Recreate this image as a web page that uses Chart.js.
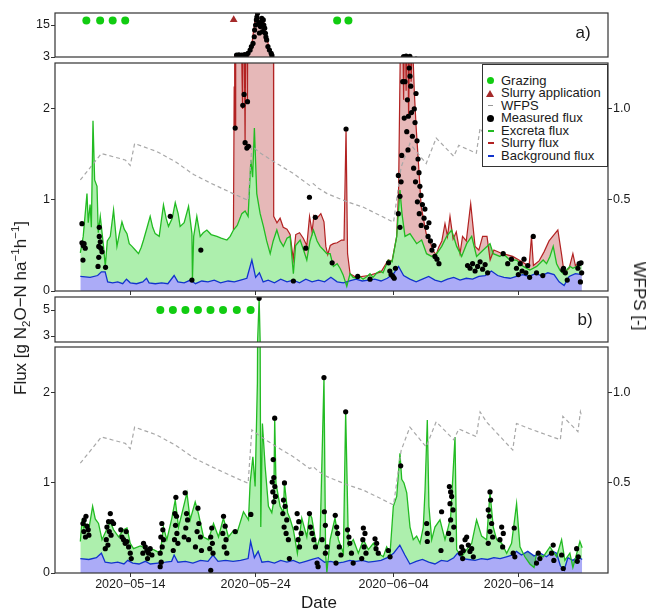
<!DOCTYPE html>
<html>
<head>
<meta charset="utf-8">
<script src="https://cdn.jsdelivr.net/npm/chart.js@4.4.1/dist/chart.umd.min.js"></script>
<style>
  body { margin: 0; background: #fff; }
  #wrap { position: relative; width: 648px; height: 611px; font-family: "Liberation Sans", Arial, sans-serif; color: #1a1a1a; }
  canvas { position: absolute; left: 0; top: 0; }
  .lbl { position: absolute; white-space: nowrap; transform: translate(-50%, -50%); }
  .lbl sub, .lbl sup { font-size: 0.68em; line-height: 0; }
  #legend { position: absolute; left: 482px; top: 64px; width: 126px; height: 103px; box-sizing: border-box;
            border: 1px solid #333; background: #fff; font-size: 13px; }
  .lr { position: absolute; left: 18px; height: 12.5px; line-height: 12.5px; white-space: nowrap; }
  .sym { position: absolute; }
</style>
</head>
<body>
<div id="wrap">
  <canvas id="stripA" width="648" height="611"></canvas>
  <canvas id="mainA" width="648" height="611"></canvas>
  <canvas id="stripB" width="648" height="611"></canvas>
  <canvas id="mainB" width="648" height="611"></canvas>

  <div class="lbl" style="left:583px;top:33px;font-size:17px">a)</div>
  <div class="lbl" style="left:585px;top:320px;font-size:17px">b)</div>
  <div class="lbl" style="left:21px;top:308px;font-size:17px;transform:translate(-50%,-50%) rotate(-90deg)">Flux [g N<sub>2</sub>O&minus;N ha<sup>&minus;1</sup>h<sup>&minus;1</sup>]</div>
  <div class="lbl" style="left:639px;top:296px;font-size:17px;transform:translate(-50%,-50%) rotate(90deg)">WFPS [-]</div>
  <div class="lbl" style="left:319px;top:603px;font-size:17px">Date</div>

  <div id="legend">
    <span class="sym" style="left:4px;top:12px;width:7px;height:7px;border-radius:50%;background:#11cc11"></span>
    <div class="lr" style="top:9.75px">Grazing</div>
    <span class="sym" style="left:3px;top:25px;width:0;height:0;border-left:4px solid transparent;border-right:4px solid transparent;border-bottom:7px solid #a52a2a"></span>
    <div class="lr" style="top:22.25px">Slurry application</div>
    <span class="sym" style="left:5px;top:40px;width:5px;height:1px;background:#999"></span>
    <div class="lr" style="top:34.75px">WFPS</div>
    <span class="sym" style="left:4px;top:50px;width:7px;height:7px;border-radius:50%;background:#000"></span>
    <div class="lr" style="top:47.25px">Measured flux</div>
    <span class="sym" style="left:5px;top:65px;width:6px;height:2px;background:#22bb22"></span>
    <div class="lr" style="top:59.75px">Excreta flux</div>
    <span class="sym" style="left:5px;top:77px;width:6px;height:2px;background:#b22222"></span>
    <div class="lr" style="top:72.25px">Slurry flux</div>
    <span class="sym" style="left:5px;top:90px;width:6px;height:2px;background:#1133cc"></span>
    <div class="lr" style="top:84.75px">Background flux</div>
  </div>
</div>

<script>
// days since 2020-05-14 00:00
const tickDays = [0, 10, 21, 31];
const tickLabels = ['2020-05-14', '2020-05-24', '2020-06-04', '2020-06-14'];
const xMin = -6.0, xMax = 38.1;

const mainTicks = [0, 1, 2];
const wfpsTicks = [0.5, 1.0];
const stripATicks = [3, 15];
const stripBTicks = [3, 5];

// soil water filled pore space (same site, both panels)
const wfps = [[-3.98,0.61],[-2.3,0.755],[-0.4,0.72],[0,0.69],[0.35,0.81],[2.1,0.767],[3.6,0.71],[5.05,0.64],
  [6.4,0.593],[8.2,0.535],[9.4,0.498],[9.7,0.795],[10.4,0.757],[11.7,0.70],[13.0,0.646],[14.3,0.58],[14.6,0.59],
  [15.0,0.565],[15.7,0.535],[17.3,0.49],[18.6,0.46],[21.0,0.378],[21.6,0.68],[22.3,0.81],[23.6,0.70],[24.4,0.84],
  [25.8,0.74],[26.2,0.80],[27.6,0.757],[27.9,0.895],[28.4,0.84],[30.5,0.683],[30.8,0.83],[31.9,0.80],[34.3,0.74],
  [34.5,0.87],[35.7,0.785],[35.9,0.895],[36.0,0.87]];

// panel a)
const grazingA = [[-3.5,16.7],[-2.4,16.7],[-1.4,16.7],[-0.4,16.7],[16.5,16.7],[17.4,16.7]];
const slurryApp = [[8.25,17.0]];

const backgroundA = [[-3.98,0.16],[-3.2,0.15],[-2.6,0.17],[-2.3,0.21],[-2.0,0.21],[-1.8,0.10],[-1.4,0.09],[-1.0,0.10],
  [-0.6,0.08],[-0.3,0.13],[0.0,0.09],[0.5,0.08],[1.0,0.10],[1.3,0.14],[1.5,0.09],[2.0,0.08],[2.5,0.09],[3.0,0.08],
  [3.5,0.17],[3.8,0.10],[4.3,0.09],[4.8,0.12],[5.2,0.08],[5.7,0.11],[6.2,0.10],[6.7,0.12],[7.2,0.09],[7.8,0.11],
  [8.3,0.10],[8.8,0.12],[9.3,0.14],[9.7,0.34],[10.0,0.15],[10.3,0.20],[10.6,0.10],[11.0,0.12],[11.5,0.09],[12.0,0.13],
  [12.5,0.10],[13.0,0.12],[13.5,0.09],[14.0,0.13],[14.5,0.10],[15.0,0.12],[15.5,0.10],[16.0,0.15],[16.5,0.10],
  [17.0,0.09],[17.5,0.11],[18.0,0.13],[18.5,0.11],[19.0,0.12],[19.5,0.13],[20.0,0.11],[20.5,0.14],[21.0,0.19],
  [21.4,0.27],[21.8,0.17],[22.3,0.13],[22.8,0.10],[23.3,0.13],[23.8,0.16],[24.3,0.12],[24.8,0.10],[25.3,0.13],
  [25.8,0.15],[26.3,0.12],[26.8,0.14],[27.3,0.13],[27.8,0.16],[28.3,0.17],[28.8,0.22],[29.3,0.17],[29.8,0.15],
  [30.3,0.14],[30.8,0.16],[31.3,0.18],[31.8,0.16],[32.3,0.19],[32.8,0.17],[33.3,0.20],[33.8,0.18],[34.2,0.10],
  [34.6,0.06],[35.0,0.16],[35.5,0.19],[36.02,0.18]];

const excretaA = [[-3.98,0.42],[-3.75,0.60],[-3.45,1.07],[-3.35,0.75],[-3.2,0.95],[-3.1,0.70],[-2.97,1.87],[-2.84,1.22],
  [-2.65,1.15],[-2.55,0.64],[-2.39,0.82],[-2.13,0.49],[-1.99,0.27],[-1.83,0.55],[-1.59,0.60],[-1.33,0.89],[-1.06,0.49],
  [-0.88,0.62],[-0.66,0.76],[-0.48,0.68],[-0.26,0.63],[-0.08,0.52],[0.14,0.49],[0.4,0.45],[0.66,0.41],[0.88,0.48],
  [1.06,0.56],[1.35,0.70],[1.59,0.82],[1.79,0.70],[1.99,0.63],[2.31,0.60],[2.65,0.945],[2.86,0.80],[3.05,0.71],
  [3.35,0.80],[3.59,0.97],[3.82,0.85],[3.98,0.71],[4.3,0.75],[4.65,0.93],[4.92,0.63],[4.96,0.12],[5.06,0.60],
  [5.31,0.82],[5.58,0.60],[5.82,0.64],[6.11,0.67],[6.45,0.62],[6.91,0.60],[7.25,0.58],[7.71,0.56],[7.97,0.60],
  [8.23,0.67],[8.53,0.72],[8.9,0.85],[9.16,0.88],[9.4,0.82],[9.62,1.44],[9.76,1.25],[9.9,1.79],[10.09,1.07],
  [10.36,0.85],[10.62,0.71],[10.88,0.55],[11.16,0.41],[11.4,0.55],[11.69,0.67],[11.95,0.55],[12.21,0.49],[12.5,0.58],
  [12.75,0.60],[13.01,0.19],[13.19,0.50],[13.55,0.56],[13.82,0.45],[14.08,0.34],[14.34,0.55],[14.61,0.67],[14.9,0.55],
  [15.14,0.49],[15.42,0.45],[15.67,0.41],[15.94,0.41],[16.2,0.27],[16.5,0.30],[16.73,0.25],[16.97,0.18],[17.27,0.05],
  [17.53,0.19],[17.77,0.15],[18.09,0.14],[18.3,0.16],[18.57,0.13],[18.88,0.16],[19.12,0.19],[19.36,0.15],[19.68,0.20],
  [19.92,0.22],[20.16,0.20],[20.58,0.34],[20.88,0.32],[21.25,0.60],[21.51,1.11],[21.67,0.85],[21.91,0.60],[22.31,0.63],
  [22.84,0.52],[23.24,0.56],[23.63,0.41],[24.04,0.38],[24.44,0.41],[24.84,0.49],[25.23,0.60],[25.63,0.67],[26.03,0.49],
  [26.43,0.38],[26.83,0.52],[27.23,0.60],[27.62,0.38],[28.15,0.45],[28.69,0.52],[28.95,0.41],[29.48,0.38],[29.74,0.41],
  [30.28,0.34],[30.81,0.34],[31.34,0.27],[31.87,0.23],[32.41,0.27],[32.93,0.34],[33.2,0.30],[33.47,0.38],[33.73,0.49],
  [34.0,0.30],[34.26,0.23],[34.53,0.19],[34.8,0.23],[35.06,0.27],[35.3,0.25],[35.6,0.27],[35.86,0.32],[36.02,0.29]];

const slurryA = [[8.23,0.67],[8.29,2.24],[8.33,3.8],[8.37,1.8],[8.41,3.7],[8.6,3.8],[8.76,3.6],[8.96,2.0],[9.03,3.8],
  [9.16,1.6],[9.24,3.9],[9.35,2.1],[9.4,4.2],[9.56,5.5],[9.72,8.5],[9.84,13],[9.96,17],[10.08,19.5],[10.2,17.5],
  [10.32,15.5],[10.44,16.5],[10.6,17.5],[10.72,14],[10.84,11],[11.0,8],[11.16,5.5],[11.31,4.0],[11.42,3.2],[11.44,0.82],
  [11.7,0.75],[11.95,0.80],[12.2,0.70],[12.5,0.68],[12.75,0.62],[13.0,0.35],[13.2,0.62],[13.5,0.64],[13.8,0.58],
  [14.08,0.50],[14.3,0.82],[14.5,0.65],[14.65,0.83],[14.9,0.80],[15.2,0.85],[15.45,0.76],[15.6,0.49],[15.75,0.40],
  [15.95,0.50],[16.2,0.52],[16.5,0.53],[16.85,0.56],[17.05,0.56],[17.21,1.78],[17.33,0.41],[17.53,0.19],[18.0,0.15],
  [19.0,0.17],[20.0,0.21],[20.58,0.34],[20.88,0.33],[21.25,0.60],[21.4,1.11],[21.55,2.8],[21.7,3.3],[21.8,2.1],
  [21.9,3.4],[22.0,2.2],[22.1,3.3],[22.2,1.9],[22.3,3.1],[22.4,2.3],[22.5,2.8],[22.65,2.2],[22.8,1.8],[22.95,1.48],
  [23.2,0.93],[23.6,0.63],[23.85,0.58],[24.1,0.45],[24.4,0.40],[24.6,0.48],[24.85,0.55],[25.1,0.74],[25.3,0.60],
  [25.5,0.82],[25.75,0.57],[26.0,0.65],[26.3,0.41],[26.5,0.60],[26.8,0.55],[27.15,0.96],[27.5,0.49],[27.8,0.45],
  [28.1,0.60],[28.45,0.60],[28.7,0.34],[29.0,0.45],[29.5,0.42],[30.0,0.40],[30.5,0.38],[31.0,0.34],[31.5,0.30],
  [31.8,0.26],[32.0,0.60],[32.15,0.28],[32.6,0.33],[33.0,0.43],[33.4,0.55],[33.8,0.62],[34.1,0.67],[34.4,0.40],
  [34.6,0.20],[35.0,0.25],[35.3,0.41],[35.5,0.28],[35.8,0.30],[36.02,0.31]];

const measuredA = [[-3.85,0.74],[-3.85,0.53],[-3.75,0.50],[-3.59,0.47],[-3.77,0.34],[-3.68,0.52],
  [-2.47,0.70],[-2.47,0.60],[-2.39,0.54],[-2.25,0.43],[-2.51,0.49],[-2.51,0.37],[-2.57,0.27],[-1.97,0.26],[-2.35,0.47],
  [3.19,0.82],[4.92,0.12],[5.63,0.45],
  [8.37,1.79],[8.98,2.04],[9.08,2.16],[9.35,2.08],[9.16,1.63],[9.3,1.57],[9.43,1.59],
  [8.48,3.75],[8.67,3.8],[8.9,3.75],[9.13,3.9],[9.39,4.4],[9.56,5.6],[9.66,6.9],[9.79,8.1],[9.89,10.6],[9.92,13.1],
  [10.06,16.9],[10.15,19.4],[10.26,15.9],[10.38,14.4],[10.49,17.5],[10.61,16.9],[10.72,13.8],[10.78,11.9],[10.88,9.4],
  [10.98,6.9],[11.1,5.6],[11.24,4.4],[8.55,3.3],[8.8,3.4],[9.05,3.3],[9.25,3.5],[10.0,15.0],[10.1,18.0],[10.3,12.0],
  [10.45,16.0],[10.55,12.5],[10.65,15.0],[10.82,10.5],[11.3,3.6],
  [13.01,0.11],[14.0,0.47],[14.29,1.03],[14.76,0.81],[16.1,0.31],[17.21,1.78],[18.14,0.16],[19.12,0.13],
  [20.6,0.31],[20.7,0.22],[20.8,0.18],[20.95,0.16],[21.05,0.14],[21.15,0.25],
  [21.38,0.85],[21.38,1.27],[21.51,1.04],[21.51,0.70],[21.65,1.49],[21.73,2.3],[21.91,2.3],[22.1,2.1],[22.18,1.92],
  [22.25,2.45],[22.31,2.36],[22.37,2.25],[22.43,1.96],[22.79,2.17],[22.71,1.85],[22.87,1.65],[22.95,1.45],[23.03,1.3],
  [23.1,1.15],[23.19,1.05],[23.3,0.95],[23.43,0.8],[23.5,0.9],[23.63,0.7],[23.75,0.6],[23.82,0.75],[23.94,0.55],
  [24.06,0.45],[24.22,0.5],[24.3,0.38],[24.46,0.35],[24.62,0.3],
  [21.8,3.15],[22.0,3.35],[22.3,3.2],[22.05,1.75],[22.15,1.55],[22.5,1.7],[22.6,1.35],[22.65,2.0],[22.75,1.2],
  [22.9,0.98],[23.05,0.85],[23.2,0.72],[21.85,1.9],[21.6,1.2],
  [26.9,0.28],[27.1,0.25],[27.3,0.3],[27.5,0.22],[27.7,0.27],[27.9,0.32],[28.1,0.24],[28.3,0.29],[28.5,0.2],
  [29.74,0.41],[30.1,0.30],[30.4,0.35],
  [30.8,0.25],[30.95,0.18],[31.1,0.3],[31.25,0.22],[31.4,0.35],[31.55,0.2],[31.7,0.28],[31.85,0.15],
  [32.14,0.6],[32.4,0.2],[32.9,0.17],[34.5,0.23],[34.55,0.25],[34.7,0.2],[34.85,0.12],
  [35.7,0.25],[35.8,0.3],[35.95,0.31],[35.9,0.1],[36.0,0.2]];

// panel b)
const grazingB = [[2.4,5],[3.4,5],[4.4,5],[5.4,5],[6.4,5],[7.4,5],[8.5,5],[9.6,5]];

const backgroundB = [[-3.98,0.16],[-3.3,0.15],[-2.7,0.17],[-2.3,0.22],[-2.0,0.12],[-1.5,0.11],[-1.0,0.12],[-0.5,0.10],
  [-0.2,0.14],[0.2,0.11],[0.7,0.10],[1.2,0.13],[1.6,0.10],[2.2,0.11],[2.8,0.12],[3.3,0.13],[3.5,0.20],[3.8,0.12],
  [4.4,0.13],[5.0,0.11],[5.6,0.14],[6.2,0.13],[6.6,0.20],[7.0,0.13],[7.6,0.14],[8.2,0.13],[8.8,0.14],[9.4,0.16],
  [9.6,0.35],[9.9,0.17],[10.2,0.24],[10.5,0.12],[11.0,0.13],[11.5,0.11],[12.0,0.14],[12.5,0.12],[13.0,0.14],
  [13.5,0.11],[14.0,0.13],[14.5,0.15],[15.0,0.17],[15.5,0.12],[16.0,0.13],[16.5,0.11],[17.0,0.12],[17.5,0.14],
  [18.0,0.13],[18.5,0.14],[19.0,0.12],[19.5,0.13],[20.0,0.14],[20.5,0.17],[21.0,0.22],[21.5,0.31],[21.9,0.20],
  [22.3,0.10],[22.8,0.13],[23.3,0.15],[23.8,0.12],[24.3,0.10],[24.8,0.14],[25.3,0.13],[25.8,0.17],[26.1,0.22],
  [26.5,0.16],[27.0,0.15],[27.5,0.14],[28.0,0.16],[28.5,0.15],[29.0,0.17],[29.5,0.16],[30.0,0.18],[30.5,0.20],
  [30.8,0.24],[31.2,0.20],[31.7,0.24],[32.2,0.19],[32.7,0.22],[33.2,0.18],[33.7,0.24],[34.0,0.22],[34.3,0.08],
  [34.6,0.03],[34.9,0.17],[35.3,0.14],[35.7,0.18],[36.04,0.15]];

const excretaB = [[-3.98,0.35],[-3.85,0.57],[-3.7,0.50],[-3.59,0.55],[-3.32,0.47],[-3.0,0.74],[-2.79,0.60],[-2.53,0.55],
  [-2.25,0.37],[-1.99,0.45],[-1.59,0.57],[-1.33,0.48],[-0.93,0.40],[-0.53,0.48],[-0.26,0.50],[0.0,0.33],[0.26,0.27],
  [0.8,0.30],[1.33,0.27],[1.86,0.26],[2.39,0.22],[2.65,0.51],[2.92,0.37],[3.32,0.61],[3.59,0.81],[3.85,0.51],
  [4.12,0.66],[4.52,0.89],[4.78,0.59],[5.18,0.79],[5.44,0.66],[5.84,0.40],[6.24,0.37],[6.64,0.55],[7.04,0.40],
  [7.43,0.61],[7.83,0.40],[8.23,0.47],[8.5,0.44],[9.03,0.68],[9.43,0.59],[9.56,1.0],[9.78,1.29],[9.96,0.96],
  [10.14,2.11],[10.28,5.9],[10.41,0.51],[10.54,1.66],[10.76,1.18],[11.02,0.74],[11.29,0.67],[11.45,0.80],[11.52,1.72],
  [11.62,1.0],[11.95,0.74],[12.21,0.67],[12.3,1.0],[12.55,0.67],[12.75,0.60],[13.01,0.48],[13.33,0.22],[13.68,0.61],
  [14.08,0.40],[14.3,0.66],[14.48,0.61],[14.88,0.28],[15.14,0.40],[15.45,2.16],[15.58,0.22],[15.68,0.01],[15.94,0.37],
  [16.33,0.61],[16.6,0.37],[17.0,0.22],[17.18,1.79],[17.4,0.30],[17.79,0.37],[18.19,0.22],[18.59,0.37],[18.99,0.26],
  [19.39,0.33],[19.78,0.22],[20.18,0.18],[20.45,0.29],[20.72,0.22],[20.98,0.74],[21.25,0.85],[21.51,1.33],[21.65,1.04],
  [21.83,1.0],[22.05,0.89],[22.31,0.51],[22.57,0.37],[22.84,0.41],[23.11,0.33],[23.37,0.51],[23.51,0.92],[23.69,1.7],
  [23.82,0.74],[24.04,0.37],[24.3,0.51],[24.7,0.59],[25.1,0.37],[25.36,0.51],[25.55,0.62],[25.9,1.51],[26.03,0.26],
  [26.43,0.18],[26.83,0.26],[27.23,0.33],[27.62,0.59],[28.02,0.41],[28.42,0.37],[28.69,0.89],[28.95,0.51],[29.22,0.37],
  [29.62,0.33],[30.02,0.22],[30.41,0.33],[30.81,0.77],[31.08,0.29],[31.47,0.18],[31.87,0.10],[32.2,0.06],[32.41,0.22],
  [32.93,0.18],[33.47,0.29],[34.0,0.18],[34.4,0.37],[34.66,0.14],[35.06,0.22],[35.3,0.06],[35.46,0.14],[35.86,0.35],
  [36.04,0.28]];

const measuredB = [[-3.77,0.55],[-3.67,0.59],[-3.53,0.63],[-3.45,0.52],[-3.35,0.48],[-3.3,0.42],[-3.57,0.40],[-3.7,0.46],
  [-1.59,0.66],[-1.73,0.57],[-1.86,0.51],[-1.67,0.46],[-1.53,0.42],[-1.91,0.37],[-1.78,0.31],[-1.99,0.27],[-1.46,0.57],[-1.33,0.55],
  [-0.66,0.40],[-0.53,0.37],[-0.4,0.33],[-0.27,0.35],[-0.13,0.29],[-0.32,0.46],[-0.75,0.48],[0.0,0.22],[0.08,0.16],
  [1.06,0.33],[1.2,0.29],[1.33,0.25],[1.46,0.22],[1.59,0.27],[1.73,0.20],[1.01,0.22],[1.38,0.16],
  [2.52,0.55],[2.6,0.48],[2.44,0.40],[2.65,0.37],[2.55,0.29],[2.39,0.22],[2.47,0.12],[2.39,0.07],
  [3.64,0.84],[3.56,0.66],[3.69,0.63],[3.61,0.53],[3.72,0.44],[3.53,0.37],[3.8,0.33],[3.43,0.25],
  [4.38,0.89],[4.49,0.66],[4.57,0.59],[4.43,0.50],[4.3,0.40],[4.65,0.37],
  [5.4,0.72],[5.47,0.55],[5.33,0.46],[5.6,0.40],[5.2,0.29],[5.68,0.25],
  [6.5,0.50],[6.42,0.40],[6.55,0.33],[6.34,0.27],[6.6,0.22],[6.42,0.03],
  [7.44,0.63],[7.57,0.52],[7.38,0.44],[7.64,0.37],[7.49,0.29],[7.7,0.22],[8.37,0.46],[9.62,0.65],[10.28,5.9],
  [11.52,1.72],[11.4,1.26],[11.45,1.06],[11.32,1.01],[11.53,0.96],[11.37,0.90],[11.58,0.85],[11.45,0.79],
  [12.3,1.0],[12.22,0.81],[12.35,0.74],[12.17,0.66],[12.48,0.59],[12.27,0.51],[12.43,0.44],[12.61,0.37],[12.69,0.16],
  [13.31,0.66],[13.44,0.57],[13.23,0.50],[13.63,0.44],[13.39,0.37],[13.5,0.29],
  [14.29,0.66],[14.37,0.51],[14.5,0.44],[14.64,0.37],[14.77,0.29],[14.9,0.11],[14.98,0.07],
  [15.45,2.17],[15.48,0.68],[15.56,0.53],[15.3,0.37],[15.7,0.29],[15.56,0.22],
  [16.35,0.64],[16.46,0.51],[16.54,0.44],[16.67,0.29],[16.8,0.20],[16.41,0.11],[17.18,1.79],
  [17.33,0.48],[17.44,0.40],[17.51,0.33],[17.64,0.22],[17.78,0.11],
  [18.59,0.50],[18.72,0.44],[18.55,0.37],[18.65,0.29],[18.8,0.22],[18.46,0.16],
  [19.52,0.38],[19.65,0.33],[19.6,0.27],[19.78,0.22],[20.58,0.25],[20.72,0.18],[21.57,1.19],
  [23.64,0.55],[23.69,0.44],[23.69,0.35],[24.83,0.68],[24.78,0.25],
  [25.45,0.96],[25.55,0.90],[25.63,0.85],[25.5,0.77],[25.74,0.70],[25.55,0.59],[25.8,0.51],[25.39,0.44],[25.63,0.37],
  [26.43,0.29],[26.56,0.25],[26.7,0.37],[26.83,0.40],[26.96,0.31],[27.09,0.24],[27.23,0.27],[27.36,0.18],[26.35,0.22],[26.51,0.16],
  [28.69,0.90],[28.74,0.81],[28.55,0.70],[28.63,0.63],[28.82,0.55],[28.69,0.46],[28.9,0.40],[28.55,0.33],
  [29.62,0.51],[29.75,0.44],[29.48,0.37],[29.7,0.29],[30.62,0.50],[30.54,0.22],[30.67,0.18],
  [32.54,0.22],[32.67,0.16],[32.4,0.11],[33.73,0.31],[33.6,0.22],[33.78,0.14],[34.4,0.20],[34.53,0.05],
  [35.6,0.27],[35.73,0.18],[35.65,0.13]];

const FONT = '"Liberation Sans", Arial, sans-serif';
const GREEN = '#22bb22', RED = '#b22222', BLUE = '#1133cc';
const LEFT_W = 40, RIGHT_W = 35, BOTTOM_H = 20;

const boxPlugin = {
  id: 'box',
  afterDraw(chart) {
    const a = chart.chartArea, ctx = chart.ctx;
    ctx.save();
    ctx.strokeStyle = '#333';
    ctx.lineWidth = 1.2;
    ctx.strokeRect(a.left, a.top, a.right - a.left, a.bottom - a.top);
    ctx.restore();
  }
};

const pts = arr => arr.map(p => ({ x: p[0], y: p[1] }));

function xAxis(show, labels) {
  return {
    type: 'linear', min: xMin, max: xMax, display: show,
    afterBuildTicks: s => { s.ticks = tickDays.map(v => ({ value: v })); },
    afterFit: s => { s.height = labels ? BOTTOM_H : 0; },
    grid: { drawOnChartArea: false, tickLength: 4, color: '#333' },
    border: { display: false },
    ticks: {
      display: labels, color: '#1a1a1a', padding: 0, maxRotation: 0, autoSkip: false,
      font: { family: FONT, size: 12.5 },
      callback: v => tickLabels[tickDays.indexOf(v)].replace(/-/g, '\u2212')
    }
  };
}

function yAxis(min, max, ticks, pos, fmt) {
  return {
    type: 'linear', position: pos, min: min, max: max,
    afterBuildTicks: s => { s.ticks = ticks.map(v => ({ value: v })); },
    afterFit: s => { s.width = pos === 'left' ? LEFT_W : RIGHT_W; },
    grid: { drawOnChartArea: false, tickLength: 4, color: '#333' },
    border: { display: false },
    ticks: { color: '#1a1a1a', padding: 1, font: { family: FONT, size: 12.5 }, callback: fmt || (v => String(v)) }
  };
}

function makeChart(id, top, bottom, datasets, scales, hasRight, hasBottom) {
  return new Chart(document.getElementById(id), {
    type: 'line',
    data: { datasets: datasets },
    options: {
      responsive: false, animation: false, devicePixelRatio: 1,
      layout: { padding: { left: 55 - LEFT_W, right: 40 - (hasRight ? RIGHT_W : 0), top: top,
                           bottom: 611 - bottom - (hasBottom ? BOTTOM_H : 0) } },
      plugins: { legend: { display: false }, tooltip: { enabled: false }, filler: { drawTime: 'beforeDatasetsDraw' } },
      elements: { line: { tension: 0 } },
      scales: scales
    },
    plugins: [boxPlugin]
  });
}

const measuredSet = arr => ({ data: pts(arr), showLine: false, pointRadius: 2.6, pointBackgroundColor: '#000',
  pointBorderColor: '#000', pointBorderWidth: 0 });
const wfpsSet = () => ({ data: pts(wfps), yAxisID: 'y2', borderColor: '#a8a8a8', borderWidth: 1.2,
  borderDash: [4, 3], pointRadius: 0, fill: false });
const lineSet = (arr, color, fillTo, fillColor, width) => ({ data: pts(arr), borderColor: color, borderWidth: width || 1.3,
  pointRadius: 0, fill: fillTo, backgroundColor: fillColor });

const wfpsFmt = v => v.toFixed(1);

// strip a)
makeChart('stripA', 13, 57, [
  { data: pts(grazingA), showLine: false, pointRadius: 4, pointBackgroundColor: '#11cc11', pointBorderWidth: 0 },
  { data: pts(slurryApp), showLine: false, pointStyle: 'triangle', pointRadius: 4.5, pointBackgroundColor: '#a52a2a', pointBorderWidth: 0 },
  measuredSet(measuredA),
  lineSet(slurryA, RED, 'start', 'rgba(178,34,34,0.32)', 1.2)
], { x: xAxis(false, false), y: yAxis(3, 19.5, stripATicks, 'left') }, false, false);

// main a)
makeChart('mainA', 63, 291, [
  measuredSet(measuredA),
  wfpsSet(),
  lineSet(excretaA, GREEN, 4, 'rgba(0,205,0,0.32)'),
  lineSet(slurryA, RED, 2, 'rgba(178,34,34,0.32)', 1.2),
  lineSet(backgroundA, BLUE, 'origin', 'rgba(0,0,230,0.33)')
], {
  x: xAxis(true, false),
  y: yAxis(0, 2.505, mainTicks, 'left'),
  y2: yAxis(0, 1.2525, wfpsTicks, 'right', wfpsFmt)
}, true, false);

// strip b)
makeChart('stripB', 297, 342, [
  { data: pts(grazingB), showLine: false, pointRadius: 4, pointBackgroundColor: '#11cc11', pointBorderWidth: 0 },
  measuredSet(measuredB),
  lineSet(excretaB, GREEN, 'start', 'rgba(0,205,0,0.32)')
], { x: xAxis(false, false), y: yAxis(2.54, 6.0, stripBTicks, 'left') }, false, false);

// main b)
makeChart('mainB', 347, 573, [
  measuredSet(measuredB),
  wfpsSet(),
  lineSet(excretaB, GREEN, 3, 'rgba(0,205,0,0.32)'),
  lineSet(backgroundB, BLUE, 'origin', 'rgba(0,0,230,0.33)')
], {
  x: xAxis(true, true),
  y: yAxis(0, 2.51, mainTicks, 'left'),
  y2: yAxis(0, 1.255, wfpsTicks, 'right', wfpsFmt)
}, true, true);
</script>
</body>
</html>
